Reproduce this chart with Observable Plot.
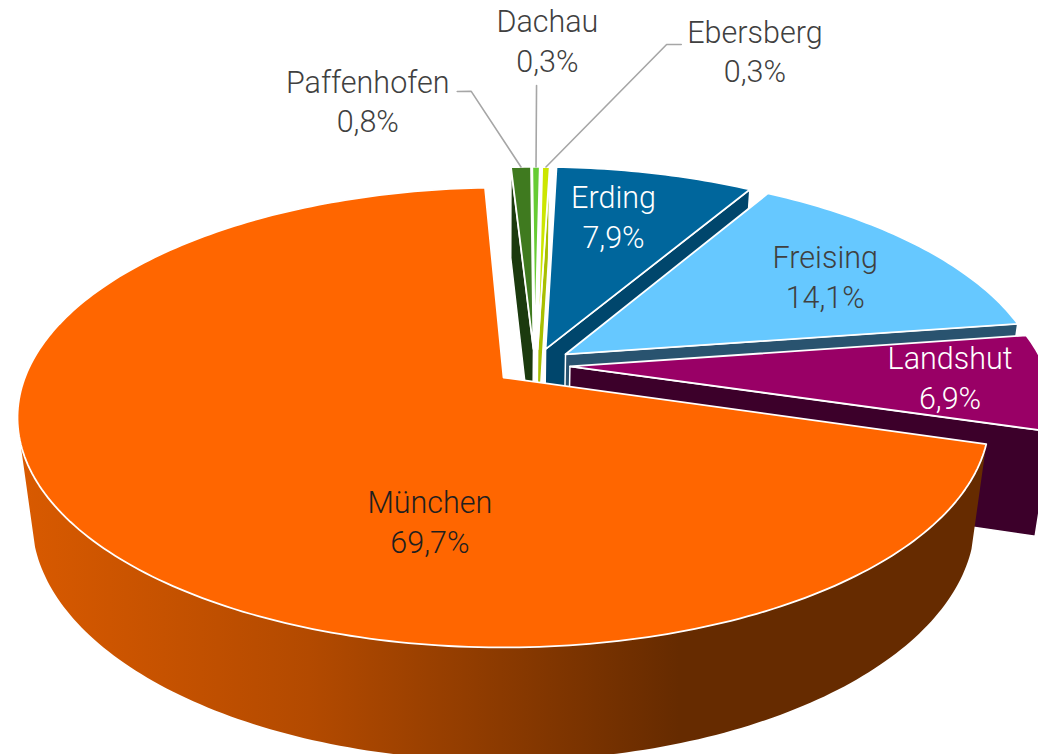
<!DOCTYPE html>
<html>
<head>
<meta charset="utf-8">
<script src="https://cdn.jsdelivr.net/npm/d3@7"></script>
<script src="https://cdn.jsdelivr.net/npm/@observablehq/plot@0.6"></script>
<style>html,body{margin:0;padding:0;background:#fff;overflow:hidden}svg{display:block;overflow:hidden}</style>
</head>
<body>
<div id="chart"></div>
<script>
// Data
const regions = ["Paffenhofen", "Dachau", "Ebersberg", "Erding", "Freising", "Landshut", "München"];
const shares = [0.8, 0.3, 0.3, 7.9, 14.1, 6.9, 69.7];
const shareLabels = ["0,8%", "0,3%", "0,3%", "7,9%", "14,1%", "6,9%", "69,7%"];

// Colours
const faceColors = ["#3f7a1f", "#66cc33", "#cce600", "#00669c", "#66c8ff", "#990066", "#ff6600"];
const wallColors = ["#1b3a0e", "#3d7a1f", "#a8bf00", "#00466c", "#29536f", "#3c002a", "url(#wallGradient)"];
const labelColors = ["#404040", "#404040", "#404040", "#ffffff", "#404040", "#ffffff", "#1f1f1f"];

// Pie layout: explosion of each slice, in pie radii
const explodeU = [0.064, 0.067, 0.073, 0.09, 0.132, 0.14, 0];
const explodeV = [-0.13, -0.13, -0.13, -0.13, -0.106, -0.05, 0];
const firstAngle = -2.6;
// Which radial side wall shows for each slice ("start", "end" or none)
const sideWalls = ["start", null, "end", "end", "end", "end", null];
// Label placement relative to each slice: radius in pie radii, degrees off the mid-angle
const labelRadius = [1.50, 1.905, 1.927, 0.705, 0.707, 0.794, 0.603];
const labelTurn = [-15.3, 0.9, 17.2, -2.5, 1.35, 0, -38.7];
// Leader lines: null, or [radius, turn] pairs from the label end towards the slice
const leaders = [
  [[1.533, -5.9], [1.529, -4.5], [1, 0]],
  [[1.566, 0], [1, 0]],
  [[1.935, 10.9], [1.927, 9.7], [1, 0]],
  null, null, null, null
];

// Perspective model of the tilted disc
const originX = 503, originY = 377, scaleU = 478.6, scaleV = 223, tilt = 0.174, dropY = 105, dropW = 0.03;
function project(U, V, z = 0) {
  const w = 1 - tilt * V + dropW * z;
  return {x: originX + scaleU * U / w, y: originY + (scaleV * V + dropY * z) / w};
}
const total = d3.sum(shares);
let cursor = firstAngle;
const slices = regions.map((name, i) => {
  const start = cursor, end = cursor + shares[i] / total * 360;
  cursor = end;
  return {name, i, start, end, mid: (start + end) / 2, ou: explodeU[i], ov: explodeV[i]};
});
function polar(s, r, deg, z = 0) {
  const a = deg * Math.PI / 180;
  return project(s.ou + r * Math.sin(a), s.ov - r * Math.cos(a), z);
}
function arc(s, from, to, z = 0) {
  const n = Math.max(2, Math.ceil(Math.abs(to - from)));
  return d3.range(n + 1).map(j => polar(s, 1, from + (to - from) * j / n, z));
}
const facePoints = s => [polar(s, 0, 0), ...arc(s, s.start, s.end)];
function radialWall(s, side) {
  const deg = side === "start" ? s.start : s.end;
  return [polar(s, 0, 0), polar(s, 1, deg), polar(s, 1, deg, 1), polar(s, 0, 0, 1)];
}
const outerWall = (s, to) => [...arc(s, s.start, to), ...arc(s, to, s.start, 1)];
const poly = (pts, fill, stroke = "none", strokeWidth = 0) =>
  Plot.line(pts, {x: "x", y: "y", fill, stroke, strokeWidth, curve: "linear-closed"});

const wallMarks = s => sideWalls[s.i] ? [poly(radialWall(s, sideWalls[s.i]), wallColors[s.i], "#fff", 1.5)] : [];
const faceMark = s => poly(facePoints(s), faceColors[s.i], "#fff", 1.8);

const [paf, dac, ebe, erd, fre, lan, mun] = slices;

const gradientStops = [[0, "#d95a00"], [0.3, "#b34a00"], [0.68, "#662b00"], [1, "#662b00"]];
const defs = () => {
  const d = d3.create("svg:defs");
  const g = d.append("linearGradient").attr("id", "wallGradient")
    .attr("gradientUnits", "userSpaceOnUse").attr("x1", 17).attr("x2", 990).attr("y1", 0).attr("y2", 0);
  gradientStops.forEach(([o, c]) => g.append("stop").attr("offset", o).attr("stop-color", c));
  return d.node();
};

const labelData = slices.map(s => {
  const p = polar(s, labelRadius[s.i], s.mid + labelTurn[s.i]);
  return {x: p.x, y: p.y, text: `${s.name}\n${shareLabels[s.i]}`, color: labelColors[s.i]};
});
const leaderData = slices.flatMap(s => (leaders[s.i] || []).map(([r, t]) => ({...polar(s, r, s.mid + t), id: s.name})));

const chart = Plot.plot({
  width: 1038, height: 754,
  margin: 0,
  x: {domain: [0, 1038], range: [0, 1038], axis: null},
  y: {domain: [0, 754], range: [0, 754], axis: null},
  color: {type: "identity"},
  marks: [
    defs,
    ...wallMarks(erd), faceMark(erd),
    ...wallMarks(fre), faceMark(fre),
    ...wallMarks(lan), faceMark(lan),
    ...wallMarks(paf), ...wallMarks(ebe),
    faceMark(paf), faceMark(dac), faceMark(ebe),
    poly(outerWall(mun, 254), wallColors[6]),
    faceMark(mun),
    Plot.line(leaderData, {x: "x", y: "y", z: "id", stroke: "#a6a6a6", strokeWidth: 1.6}),
    Plot.text(labelData, {
      x: "x", y: "y", dy: -3, text: "text", fill: "color",
      fontFamily: "Roboto", fontWeight: 300, fontSize: 30.5, lineHeight: 1.31
    })
  ]
});
document.getElementById("chart").append(chart);
</script>
</body>
</html>
